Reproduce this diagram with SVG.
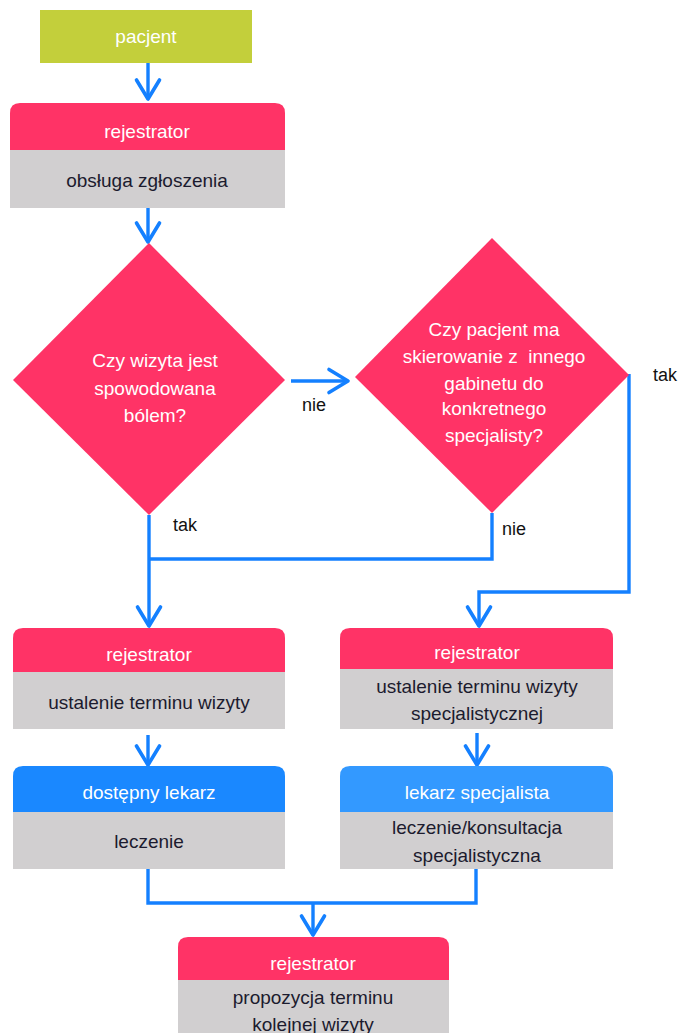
<svg xmlns="http://www.w3.org/2000/svg" width="682" height="1033" viewBox="0 0 682 1033">
<defs>
<marker id="ah" markerUnits="userSpaceOnUse" viewBox="-22 -15 25 30" markerWidth="25" markerHeight="30" refX="0" refY="0" orient="auto">
<path d="M-19,-11.5 L0,0 L-19,11.5" fill="none" stroke="#1480ff" stroke-width="3.6" stroke-linecap="round" stroke-linejoin="round"/>
</marker>
<style>
.t{font-family:"Liberation Sans",Arial,sans-serif;font-size:19px;text-anchor:middle}
.w{fill:#ffffff}
.d{fill:#1c1b2e}
.l{font-family:"Liberation Sans",Arial,sans-serif;font-size:18px;fill:#111}
.pink{fill:#ff3366}
.gray{fill:#d1cfd0}
.c{fill:none;stroke:#1480ff;stroke-width:3.4}
</style>
</defs>
<rect width="682" height="1033" fill="#ffffff"/>
<g id="connectors">
<path class="c" d="M148,63 L148,99" marker-end="url(#ah)"/>
<path class="c" d="M148,208 L148,242" marker-end="url(#ah)"/>
<path class="c" d="M291,381 L348,381" marker-end="url(#ah)"/>
<path class="c" d="M149,515 L149,626" marker-end="url(#ah)"/>
<path class="c" d="M492,513 L492,559 L149,559"/>
<path class="c" d="M629,374 L629,592 L479,592 L479,626" marker-end="url(#ah)"/>
<path class="c" d="M148,735 L148,765" marker-end="url(#ah)"/>
<path class="c" d="M477,733 L477,765" marker-end="url(#ah)"/>
<path class="c" d="M148,869 L148,903 L476,903 L476,869"/>
<path class="c" d="M313,903 L313,935" marker-end="url(#ah)"/>
</g>
<g id="pacjent">
<rect x="40" y="10" width="212" height="53" fill="#c3cf3b"/>
<text class="t w" x="146" y="43">pacjent</text>
</g>
<g id="rejestrator1">
<path class="pink" d="M10,150 L10,113 Q10,103 20,103 L275,103 Q285,103 285,113 L285,150 Z"/>
<rect class="gray" x="10" y="150" width="275" height="58"/>
<text class="t w" x="147" y="138">rejestrator</text>
<text class="t d" x="147" y="187">obsługa zgłoszenia</text>
</g>
<g id="decision1">
<polygon class="pink" points="149,243 285,380 149,515 13,380"/>
<text class="t w" x="155" y="367">Czy wizyta jest</text>
<text class="t w" x="155" y="395">spowodowana</text>
<text class="t w" x="155" y="422">bólem?</text>
</g>
<g id="decision2">
<polygon class="pink" points="492,238 629,375 492,513 355,377"/>
<text class="t w" x="494" y="336">Czy pacjent ma</text>
<text class="t w" x="494" y="363" xml:space="preserve">skierowanie z  innego</text>
<text class="t w" x="494" y="390">gabinetu do</text>
<text class="t w" x="494" y="415">konkretnego</text>
<text class="t w" x="494" y="442">specjalisty?</text>
</g>
<g id="labels">
<text class="l" x="302" y="411">nie</text>
<text class="l" x="173" y="531">tak</text>
<text class="l" x="502" y="535">nie</text>
<text class="l" x="653" y="381">tak</text>
</g>
<g id="rejestrator2">
<path class="pink" d="M13,672 L13,638 Q13,628 23,628 L275,628 Q285,628 285,638 L285,672 Z"/>
<rect class="gray" x="13" y="672" width="272" height="57"/>
<text class="t w" x="149" y="661">rejestrator</text>
<text class="t d" x="149" y="709">ustalenie terminu wizyty</text>
</g>
<g id="rejestrator3">
<path class="pink" d="M340,669 L340,638 Q340,628 350,628 L603,628 Q613,628 613,638 L613,669 Z"/>
<rect class="gray" x="340" y="669" width="273" height="60"/>
<text class="t w" x="477" y="659">rejestrator</text>
<text class="t d" x="477" y="693">ustalenie terminu wizyty</text>
<text class="t d" x="477" y="720">specjalistycznej</text>
</g>
<g id="dostepny_lekarz">
<path d="M13,812 L13,776 Q13,766 23,766 L275,766 Q285,766 285,776 L285,812 Z" fill="#1a88ff"/>
<rect class="gray" x="13" y="812" width="272" height="57"/>
<text class="t w" x="149" y="799">dostępny lekarz</text>
<text class="t d" x="149" y="848">leczenie</text>
</g>
<g id="lekarz_specjalista">
<path d="M340,812 L340,776 Q340,766 350,766 L603,766 Q613,766 613,776 L613,812 Z" fill="#3399ff"/>
<rect class="gray" x="340" y="812" width="273" height="57"/>
<text class="t w" x="477" y="799">lekarz specjalista</text>
<text class="t d" x="477" y="834">leczenie/konsultacja</text>
<text class="t d" x="477" y="862">specjalistyczna</text>
</g>
<g id="rejestrator4">
<path class="pink" d="M178,980 L178,947 Q178,937 188,937 L439,937 Q449,937 449,947 L449,980 Z"/>
<rect class="gray" x="178" y="980" width="271" height="53"/>
<text class="t w" x="313" y="970">rejestrator</text>
<text class="t d" x="313" y="1004">propozycja terminu</text>
<text class="t d" x="313" y="1031">kolejnej wizyty</text>
</g>
</svg>
